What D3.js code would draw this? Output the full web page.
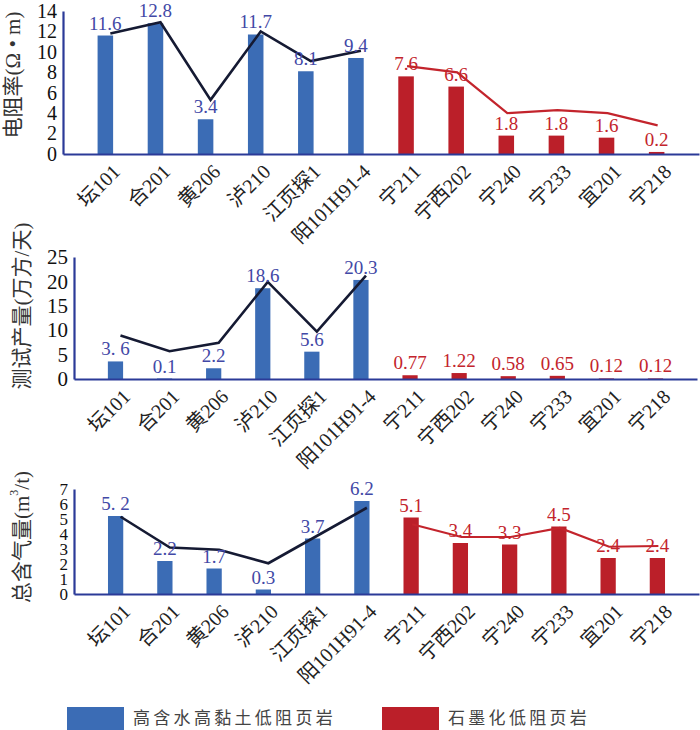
<!DOCTYPE html>
<html>
<head>
<meta charset="utf-8">
<script src="https://cdn.jsdelivr.net/npm/d3@7"></script>
<style>
  body { margin: 0; background: #fff; }
  svg { display: block; }
</style>
</head>
<body>
<svg id="chart" width="700" height="730"></svg>
<script>
// wells, split into the two shale types
const clayWells = ['坛101', '合201', '黄206', '泸210', '江页探1', '阳101H91-4'];
const graphiteWells = ['宁211', '宁西202', '宁240', '宁233', '宜201', '宁218'];
const wells = clayWells.concat(graphiteWells);
const legendNames = ['高含水高黏土低阻页岩', '石墨化低阻页岩'];

// 电阻率
const resistivity = [11.6, 12.8, 3.4, 11.7, 8.1, 9.4, 7.6, 6.6, 1.8, 1.8, 1.6, 0.2];
const resistivityLabels = ['11.6', '12.8', '3.4', '11.7', '8.1', '9.4', '7.6', '6.6', '1.8', '1.8', '1.6', '0.2'];
const resistivityClayLine = [11.8, 12.9, 5.3, 12.0, 9.1, 10.1];
const resistivityGraphiteLine = [8.6, 8.0, 4.0, 4.3, 4.0, 2.8];
const resistivityTicks = [0, 2, 4, 6, 8, 10, 12, 14];

// 测试产量
const production = [3.6, 0.1, 2.2, 18.6, 5.6, 20.3, 0.77, 1.22, 0.58, 0.65, 0.12, 0.12];
const productionLabels = ['3. 6', '0.1', '2.2', '18.6', '5.6', '20.3', '0.77', '1.22', '0.58', '0.65', '0.12', '0.12'];
const productionClayLine = [8.9, 5.7, 7.4, 19.9, 9.7, 21.2];
const productionTicks = [0, 5, 10, 15, 20, 25];

// 总含气量
const gas = [5.2, 2.2, 1.7, 0.3, 3.7, 6.2, 5.1, 3.4, 3.3, 4.5, 2.4, 2.4];
const gasLabels = ['5. 2', '2.2', '1.7', '0.3', '3.7', '6.2', '5.1', '3.4', '3.3', '4.5', '2.4', '2.4'];
const gasClayLine = [5.15, 3.1, 2.95, 2.05, 3.9, 5.75];
const gasGraphiteLine = [4.65, 3.8, 3.8, 4.4, 3.15, 3.2];
const gasTicks = [0, 1, 2, 3, 4, 5, 6, 7];

const colors = {
  clayBar: '#3b6cb5',
  graphiteBar: '#bb1f29',
  clayText: '#4248a6',
  graphiteText: '#c3242c',
  clayLine: '#151a33',
  graphiteLine: '#c3242c',
  axis: '#2b3a98',
};
const serif = '"Liberation Serif", "Noto Sans CJK SC", serif';

const svg = d3.select('#chart');

const panels = [
  {
    values: resistivity, labels: resistivityLabels, ticks: resistivityTicks,
    clayLine: resistivityClayLine, graphiteLine: resistivityGraphiteLine,
    left: 63, right: 699, top: 11, bottom: 154, tickFont: 20,
    titleX: 13, titleY: 75,
    title: ['电阻率(Ω • m)'],
  },
  {
    values: production, labels: productionLabels, ticks: productionTicks,
    clayLine: productionClayLine, graphiteLine: null,
    left: 74, right: 697, top: 257, bottom: 379, tickFont: 21,
    titleX: 22, titleY: 306,
    title: ['测试产量(万方/天)'],
  },
  {
    values: gas, labels: gasLabels, ticks: gasTicks,
    clayLine: gasClayLine, graphiteLine: gasGraphiteLine,
    left: 74, right: 699, top: 489, bottom: 594, tickFont: 17,
    titleX: 22, titleY: 537,
    title: ['总含气量(m', '3', '/t)'],
  },
];

function isClay(name) {
  return clayWells.includes(name);
}

panels.forEach((p) => {
  const g = svg.append('g');

  const x = d3.scaleBand().domain(wells).range([p.left, p.right]).padding(0.69);
  const y = d3
    .scaleLinear()
    .domain([0, d3.max(p.ticks)])
    .range([p.bottom, p.top]);

  const rows = wells.map((name, i) => ({
    name,
    value: p.values[i],
    label: p.labels[i],
  }));

  // bars
  g.append('g')
    .selectAll('rect')
    .data(rows)
    .join('rect')
    .attr('x', (d) => x(d.name))
    .attr('y', (d) => y(d.value))
    .attr('width', x.bandwidth())
    .attr('height', (d) => p.bottom - y(d.value))
    .attr('fill', (d) => (isClay(d.name) ? colors.clayBar : colors.graphiteBar));

  // trend lines
  const line = (offset) =>
    d3
      .line()
      .x((d) => x(d.name) + x.bandwidth() / 2 + offset)
      .y((d) => y(d.value));

  const clayPts = clayWells.map((name, i) => ({ name, value: p.clayLine[i] }));
  g.append('path')
    .attr('d', line(5)(clayPts))
    .attr('fill', 'none')
    .attr('stroke', colors.clayLine)
    .attr('stroke-width', 2.6);

  if (p.graphiteLine) {
    const grPts = graphiteWells.map((name, i) => ({ name, value: p.graphiteLine[i] }));
    g.append('path')
      .attr('d', line(1)(grPts))
      .attr('fill', 'none')
      .attr('stroke', colors.graphiteLine)
      .attr('stroke-width', 2.2);
  }

  // value labels
  g.append('g')
    .selectAll('text')
    .data(rows)
    .join('text')
    .attr('x', (d) => x(d.name) + x.bandwidth() / 2)
    .attr('y', (d) => y(d.value) - 6)
    .attr('text-anchor', 'middle')
    .attr('font-family', serif)
    .attr('font-size', 19)
    .attr('fill', (d) => (isClay(d.name) ? colors.clayText : colors.graphiteText))
    .text((d) => d.label);

  // y axis
  const yAxis = g
    .append('g')
    .attr('transform', `translate(${p.left},0)`)
    .call(
      d3
        .axisLeft(y)
        .tickValues(p.ticks)
        .tickFormat(d3.format('d'))
        .tickSize(0)
        .tickPadding(6),
    );
  yAxis.select('.domain').attr('stroke', colors.axis).attr('stroke-width', 2.2);
  yAxis
    .selectAll('text')
    .attr('font-family', serif)
    .attr('font-size', p.tickFont)
    .attr('fill', '#111');

  // x axis
  const xAxis = g
    .append('g')
    .attr('transform', `translate(0,${p.bottom})`)
    .call(d3.axisBottom(x).tickSize(0).tickSizeOuter(0));
  xAxis.select('.domain').attr('stroke', colors.axis).attr('stroke-width', 2.2);
  xAxis
    .selectAll('text')
    .attr('font-family', serif)
    .attr('font-size', 20)
    .attr('fill', '#222')
    .attr('text-anchor', 'end')
    .attr('dy', null)
    .attr('y', null)
    .attr('transform', 'translate(16,19) rotate(-45)');

  // y title
  const title = g
    .append('text')
    .attr('transform', `translate(${p.titleX},${p.titleY}) rotate(-90)`)
    .attr('text-anchor', 'middle')
    .attr('dominant-baseline', 'central')
    .attr('font-family', serif)
    .attr('font-size', 21)
    .attr('fill', '#333');
  if (p.title.length === 1) {
    title.text(p.title[0]);
  } else {
    title.append('tspan').text(p.title[0]);
    title.append('tspan').attr('font-size', 12).attr('dy', -8).text(p.title[1]);
    title.append('tspan').attr('dy', 8).text(p.title[2]);
  }
});

// legend
const legend = svg.append('g');
const legendX = [67, 382];
legendNames.forEach((name, i) => {
  legend
    .append('rect')
    .attr('x', legendX[i])
    .attr('y', 707)
    .attr('width', 57)
    .attr('height', 23)
    .attr('fill', i === 0 ? colors.clayBar : colors.graphiteBar);
  legend
    .append('text')
    .attr('x', legendX[i] + 66)
    .attr('y', 724)
    .attr('font-family', '"Noto Sans CJK SC", serif')
    .attr('font-size', 17)
    .attr('letter-spacing', 3.3)
    .attr('fill', '#444')
    .text(name);
});
</script>
</body>
</html>
